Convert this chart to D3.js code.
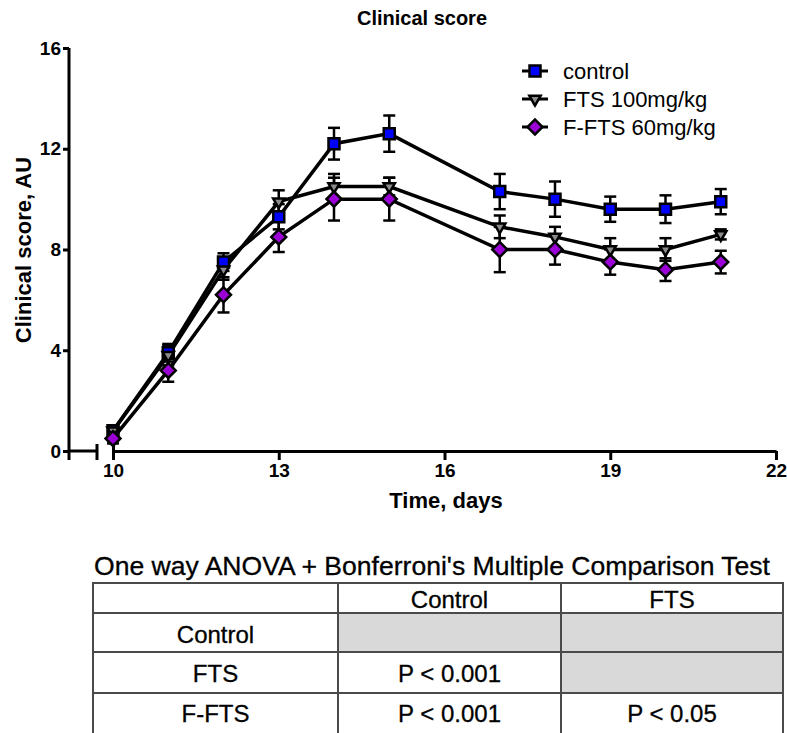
<!DOCTYPE html>
<html>
<head>
<meta charset="utf-8">
<script src="https://cdn.jsdelivr.net/npm/d3@7"></script>
<style>
  body { margin: 0; background: #fff; }
  svg { display: block; font-family: Arial, "Liberation Sans", sans-serif; }
</style>
</head>
<body>
<svg id="chart" width="787" height="733"></svg>
<script>
/*global d3 */
var days = [10, 11, 12, 13, 14, 15, 17, 18, 19, 20, 21];
var control = [0.8, 3.9, 7.5, 9.3, 12.2, 12.6, 10.3, 10.0, 9.6, 9.6, 9.9];
var controlErr = [0.2, 0.35, 0.35, 0.5, 0.63, 0.72, 0.7, 0.7, 0.5, 0.55, 0.5];
var fts = [0.8, 3.8, 7.2, 9.9, 10.5, 10.5, 8.9, 8.5, 8.0, 8.0, 8.6];
var ftsErr = [0.2, 0.4, 0.4, 0.45, 0.5, 0.35, 0.45, 0.4, 0.45, 0.45, 0.2];
var fFts = [0.5, 3.2, 6.2, 8.5, 10.0, 10.0, 8.0, 8.0, 7.5, 7.2, 7.5];
var fFtsErr = [0.2, 0.45, 0.7, 0.6, 0.85, 0.85, 0.9, 0.6, 0.5, 0.45, 0.45];

var seriesNames = ["control", "FTS 100mg/kg", "F-FTS 60mg/kg"];
var xTicks = [10, 13, 16, 19, 22];
var yTicks = [0, 4, 8, 12, 16];

var tableTitle = "One way ANOVA  + Bonferroni's Multiple Comparison Test";
var colHeaders = ["", "Control", "FTS"];
var rowHeaders = ["Control", "FTS", "F-FTS"];
var cells = [["", ""], ["P < 0.001", ""], ["P < 0.001", "P < 0.05"]];

var svg = d3.select("#chart");
var x = d3.scaleLinear().domain([10, 22]).range([113, 776]);
var y = d3.scaleLinear().domain([0, 16]).range([451, 48]);
var axisX = 69;

// title + axis labels
svg.append("text").attr("x", 422).attr("y", 25).attr("text-anchor", "middle")
    .attr("font-weight", "bold").attr("font-size", 20).text("Clinical score");
svg.append("text").attr("transform", "translate(31,250) rotate(-90)").attr("text-anchor", "middle")
    .attr("font-weight", "bold").attr("font-size", 22).text("Clinical score, AU");
svg.append("text").attr("x", 446).attr("y", 508).attr("text-anchor", "middle")
    .attr("font-weight", "bold").attr("font-size", 22).text("Time, days");

// y axis
var gy = svg.append("g").attr("transform", "translate(" + axisX + ",0)")
    .call(d3.axisLeft(y).tickValues(yTicks).tickSize(6).tickSizeOuter(0).tickPadding(2));
gy.select(".domain").attr("stroke-width", 3).attr("d", "M0,48V460");
gy.selectAll(".tick line").attr("stroke-width", 3);
gy.selectAll(".tick text").attr("font-size", 19).attr("font-weight", "bold").attr("fill", "#000")
    .attr("font-family", "Arial, 'Liberation Sans', sans-serif");

// x axis, broken before day 10
svg.append("line").attr("x1", axisX).attr("x2", 97).attr("y1", y(0)).attr("y2", y(0))
    .attr("stroke", "#000").attr("stroke-width", 3);
svg.append("line").attr("x1", 97).attr("x2", 97).attr("y1", y(0) - 7).attr("y2", y(0) + 9)
    .attr("stroke", "#000").attr("stroke-width", 3);
var gx = svg.append("g").attr("transform", "translate(0," + y(0) + ")")
    .call(d3.axisBottom(x).tickValues(xTicks).tickSize(9).tickSizeOuter(0).tickPadding(4));
gx.select(".domain").attr("stroke-width", 3);
gx.selectAll(".tick line").attr("stroke-width", 3).attr("y1", function (d) { return d === 10 ? -7 : 0; });
gx.selectAll(".tick text").attr("font-size", 19).attr("font-weight", "bold").attr("fill", "#000")
    .attr("font-family", "Arial, 'Liberation Sans', sans-serif");

var series = [
    {name: seriesNames[0], v: control, e: controlErr, fill: "#0000ff", sym: d3.symbolSquare, size: 121, rot: 0},
    {name: seriesNames[1], v: fts, e: ftsErr, fill: "#8c8c8c", sym: d3.symbolTriangle, size: 55, rot: 180},
    {name: seriesNames[2], v: fFts, e: fFtsErr, fill: "#9b00d6", sym: d3.symbolSquare, size: 112, rot: 45}
];

var line = d3.line().x(function (d) { return x(d[0]); }).y(function (d) { return y(d[1]); });

series.forEach(function (s) {
    svg.append("path").datum(days.map(function (d, i) { return [d, s.v[i]]; }))
        .attr("d", line).attr("fill", "none").attr("stroke", "#000").attr("stroke-width", 3.5);
});

series.forEach(function (s) {
    var g = svg.append("g").attr("stroke", "#000").attr("stroke-width", 2.5);
    days.forEach(function (d, i) {
        var cx = x(d), t = y(s.v[i] + s.e[i]), b = y(s.v[i] - s.e[i]);
        g.append("line").attr("x1", cx).attr("x2", cx).attr("y1", t).attr("y2", b);
        g.append("line").attr("x1", cx - 6).attr("x2", cx + 6).attr("y1", t).attr("y2", t);
        g.append("line").attr("x1", cx - 6).attr("x2", cx + 6).attr("y1", b).attr("y2", b);
    });
});

series.forEach(function (s) {
    svg.append("g").selectAll("path").data(days).enter().append("path")
        .attr("d", d3.symbol().type(s.sym).size(s.size))
        .attr("transform", function (d, i) { return "translate(" + x(d) + "," + y(s.v[i]) + ") rotate(" + s.rot + ")"; })
        .attr("fill", s.fill).attr("stroke", "#000").attr("stroke-width", 2.5);
});

// legend
var lg = svg.append("g").selectAll("g").data(series).enter().append("g")
    .attr("transform", function (d, i) { return "translate(0," + [71, 99, 127][i] + ")"; });
lg.append("line").attr("x1", 522).attr("x2", 548).attr("stroke", "#000").attr("stroke-width", 3);
lg.append("path").attr("d", function (d) { return d3.symbol().type(d.sym).size(d.size)(); })
    .attr("transform", function (d) { return "translate(535,0) rotate(" + d.rot + ")"; })
    .attr("fill", function (d) { return d.fill; }).attr("stroke", "#000").attr("stroke-width", 2.5);
lg.append("text").attr("x", 563).attr("y", 8).attr("font-size", 22).text(function (d) { return d.name; });

// ANOVA table
svg.append("text").attr("x", 94).attr("y", 575).attr("font-size", 25)
    .attr("stroke", "#000").attr("stroke-width", 0.3)
    .attr("textLength", 676).attr("lengthAdjust", "spacingAndGlyphs").text(tableTitle);

var colEdges = [93, 338, 561, 783];
var rowEdges = [583, 613, 652, 693, 745];
var tg = svg.append("g");
var rowsAll = [colHeaders].concat(rowHeaders.map(function (r, i) { return [r].concat(cells[i]); }));
rowsAll.forEach(function (row, ri) {
    row.forEach(function (val, ci) {
        var shaded = ri > 0 && ci > 0 && val === "";
        tg.append("rect").attr("x", colEdges[ci]).attr("y", rowEdges[ri])
            .attr("width", colEdges[ci + 1] - colEdges[ci]).attr("height", rowEdges[ri + 1] - rowEdges[ri])
            .attr("fill", shaded ? "#d9d9d9" : "#fff").attr("stroke", "#4a4a4a").attr("stroke-width", 2);
        if (val !== "") {
            tg.append("text").attr("x", (colEdges[ci] + colEdges[ci + 1]) / 2)
                .attr("y", ri === 0 ? 608 : [643, 682, 722][ri - 1])
                .attr("stroke", "#000").attr("stroke-width", 0.3)
                .attr("text-anchor", "middle").attr("font-size", 24).text(val);
        }
    });
});
</script>
</body>
</html>
